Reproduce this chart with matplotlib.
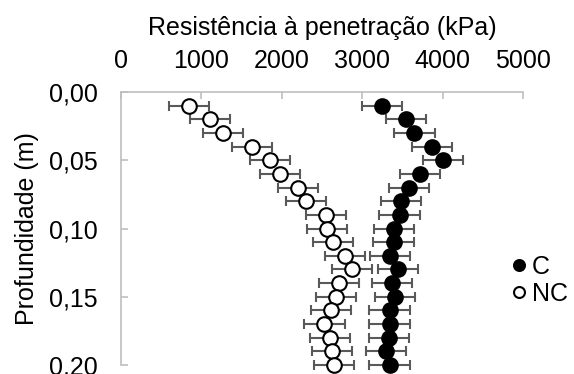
import numpy as np
import matplotlib.pyplot as plt
from matplotlib.ticker import FuncFormatter

plt.rcParams['font.family'] = ['Liberation Sans', 'DejaVu Sans']

depth = [0.01, 0.02, 0.03, 0.04, 0.05, 0.06, 0.07, 0.08, 0.09, 0.10,
         0.11, 0.12, 0.13, 0.14, 0.15, 0.16, 0.17, 0.18, 0.19, 0.20]
c_vals = [3250, 3540, 3650, 3870, 4000, 3720, 3580, 3485, 3465, 3395,
          3390, 3345, 3445, 3375, 3405, 3340, 3340, 3335, 3300, 3340]
nc_vals = [850, 1110, 1265, 1630, 1855, 1980, 2205, 2305, 2545, 2560,
           2640, 2785, 2875, 2710, 2670, 2615, 2530, 2595, 2620, 2650]
c_err = [250] * 20
nc_err = [250] * 20

fs = 18

fig = plt.figure(figsize=(5.74, 3.74), dpi=100)
ax = fig.add_axes([121 / 574, 9 / 374, 402 / 574, 273 / 374])

err_kw = dict(ecolor='#595959', elinewidth=1.5, capsize=3.5, capthick=1.5, linestyle='none')
ax.errorbar(c_vals, depth, xerr=c_err, fmt='o', color='black', mfc='black', mec='black',
            ms=10.5, mew=1.5, label='C', zorder=3, clip_on=False, **err_kw)
ax.errorbar(nc_vals, depth, xerr=nc_err, fmt='o', color='black', mfc='white', mec='black',
            ms=10.5, mew=1.5, label='NC', zorder=3, clip_on=False, **err_kw)

ax.set_xlim(0, 5000)
ax.set_ylim(0.20, 0.0)
ax.set_xticks([0, 1000, 2000, 3000, 4000, 5000])
ax.set_yticks([0.0, 0.05, 0.10, 0.15, 0.20])
ax.yaxis.set_major_formatter(FuncFormatter(lambda v, p: f'{v:.2f}'.replace('.', ',')))
ax.xaxis.tick_top()
ax.xaxis.set_label_position('top')
ax.tick_params(axis='both', direction='in', length=5, width=1.2, color='#bfbfbf',
               labelsize=fs, labelcolor='black')
ax.tick_params(axis='x', pad=13.5)
ax.tick_params(axis='y', pad=16.5)
for s in ['right', 'bottom']:
    ax.spines[s].set_visible(False)
for s in ['left', 'top']:
    ax.spines[s].set_color('#bfbfbf')
    ax.spines[s].set_linewidth(1.2)

ax.set_xlabel('Resistência à penetração (kPa)', fontsize=fs, labelpad=10)
ax.set_ylabel('Profundidade (m)', fontsize=fs, labelpad=7)

handles, labels = ax.get_legend_handles_labels()
handles = [h[0] for h in handles]
leg = ax.legend(handles, labels, loc='center left', bbox_to_anchor=(0.975, 0.31),
                frameon=False, fontsize=fs, handlelength=0.5, handletextpad=0.25,
                markerscale=0.75, labelspacing=0.1, borderpad=0, borderaxespad=0)

fig.savefig('out.png', dpi=100)
